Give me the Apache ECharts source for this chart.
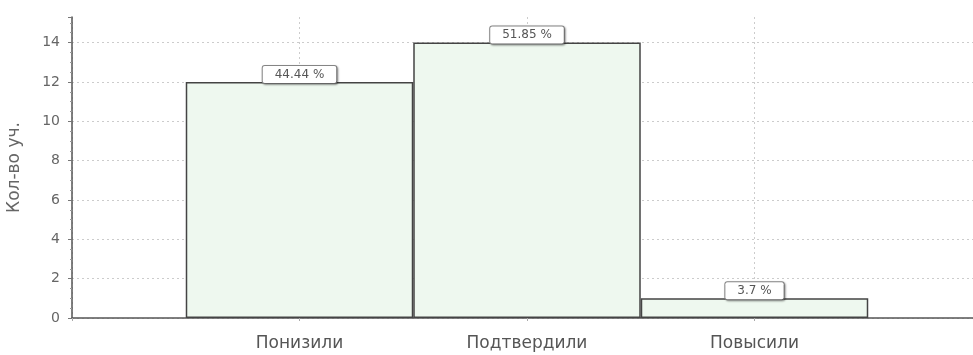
<!DOCTYPE html>
<html>
<head>
<meta charset="utf-8">
<script src="https://cdn.jsdelivr.net/npm/echarts@6/dist/echarts.min.js"></script>
<style>
  html, body { margin: 0; padding: 0; background: #fff; }
  #chart { width: 973px; height: 355px; }
</style>
</head>
<body>
<div id="chart"></div>
<script>
// categories, padded with empty slots at both ends (bars sit on ticks)
const categories = ['', 'Понизили', 'Подтвердили', 'Повысили', '']
const counts = [null, 12, 14, 1, null]
const yTicks = [0, 2, 4, 6, 8, 10, 12, 14]

const total = counts.reduce((s, v) => s + (v || 0), 0)
const FONT = 'DejaVu Sans'

var chart = echarts.init(document.getElementById('chart'))
chart.setOption({
    animation: false,
    backgroundColor: '#fff',
    // width set explicitly: plot runs past the right edge of the picture
    grid: { left: 72, width: 910, top: 17, bottom: 37, containLabel: false, outerBoundsMode: 'none' },
    xAxis: {
        type: 'category',
        data: categories,
        boundaryGap: false,
        axisLine: { lineStyle: { color: '#555', width: 1.5 } },
        axisTick: { show: true, length: 3, lineStyle: { color: '#aaa' } },
        axisLabel: { color: '#555', fontSize: 17, fontFamily: FONT, margin: 17 },
        splitLine: { show: true, lineStyle: { color: '#ccc', type: [2, 3] } }
    },
    yAxis: {
        type: 'value',
        min: 0,
        max: 15.3,
        interval: 2,
        name: 'Кол-во уч.',
        nameLocation: 'middle',
        nameGap: 49,
        nameTextStyle: { color: '#666', fontSize: 17, fontFamily: FONT },
        axisLine: { show: true, lineStyle: { color: '#555', width: 1.5 } },
        axisTick: { show: true, length: 4, lineStyle: { color: '#777' } },
        minorTick: { show: true, splitNumber: 4, length: 2, lineStyle: { color: '#999' } },
        axisLabel: {
            color: '#666', fontSize: 14, fontFamily: FONT, margin: 12,
            showMaxLabel: false,
            formatter: v => yTicks.includes(v) ? String(v) : ''
        },
        splitLine: { show: true, showMaxLine: false, lineStyle: { color: '#ccc', type: [2, 3] } }
    },
    series: [{
        type: 'bar',
        data: counts,
        barWidth: '100%',
        itemStyle: { color: '#eef8ef', borderColor: '#444', borderWidth: 1.5 },
        label: {
            show: true,
            position: 'top',
            distance: -1,
            formatter: p => parseFloat((p.value / total * 100).toFixed(2)) + ' %',
            color: '#555',
            fontSize: 12,
            lineHeight: 13,
            fontFamily: FONT,
            backgroundColor: '#fff',
            borderColor: '#888',
            borderWidth: 1,
            borderRadius: 2,
            padding: [2, 12, 2, 12],
            shadowColor: 'rgba(0,0,0,0.35)',
            shadowBlur: 2,
            shadowOffsetX: 1,
            shadowOffsetY: 1
        }
    }]
})
</script>
</body>
</html>
